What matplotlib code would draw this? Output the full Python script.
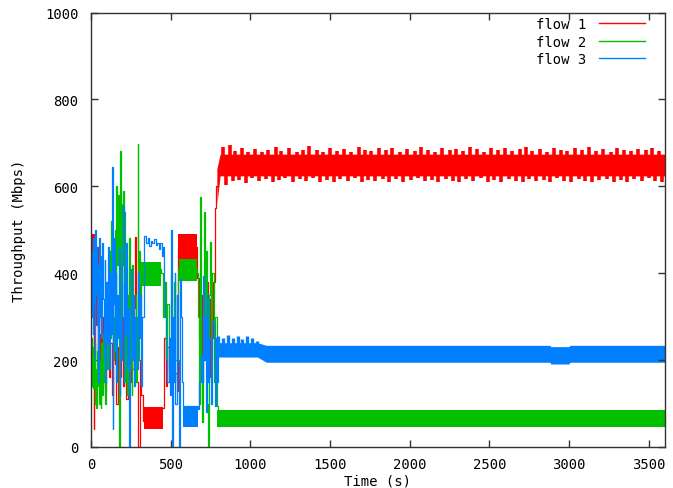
import numpy as np
import matplotlib
matplotlib.use("Agg")
import matplotlib.pyplot as plt

# ---------------- data ----------------
labels = ["flow 1", "flow 2", "flow 3"]
colors = ["#ff0000", "#00c000", "#0080ff"]

# transient phase (0 - ~800 s), line samples
red_t = [0, 3, 6, 9, 12, 15, 18, 21, 24, 27, 30, 34, 38, 42, 46, 50, 55, 60, 65, 70,
         75, 80, 85, 90, 95, 100, 110, 120, 130, 140, 150, 160, 170, 180, 190, 200, 210,
         220, 230, 240, 250, 260, 270, 278, 285, 295, 305, 315, 325, 330, 450, 460, 470,
         480, 490, 500, 510, 520, 530, 540, 548, 663, 665, 675, 685, 695, 705, 715, 725,
         735, 745, 755, 765, 775, 785, 795, 805]
red_v = [430, 490, 400, 480, 410, 470, 41, 300, 460, 400, 320, 280, 460, 200, 320, 260, 150,
         320, 270, 140, 300, 180, 250, 130, 220, 300, 160, 240, 120, 280, 190, 100, 230, 160,
         300, 140, 250, 110, 200, 150, 260, 180, 320, 484, 150, 0, 200, 120, 60, 90, 90, 250,
         140, 230, 180, 130, 190, 150, 170, 130, 460, 460, 390, 250, 350, 150, 300, 200, 380,
         160, 340, 250, 380, 550, 600, 640, 650]

green_t = [0, 3, 6, 9, 12, 15, 18, 21, 24, 27, 30, 34, 38, 42, 46, 50, 55, 60, 65, 70, 75,
           80, 85, 90, 95, 100, 105, 110, 115, 120, 125, 130, 135, 140, 145, 150, 155, 160,
           165, 170, 176, 180, 184, 188, 192, 196, 200, 205, 209, 215, 220, 225, 230, 235,
           240, 245, 250, 255, 260, 265, 272, 280, 287, 293, 297, 303, 310, 316, 440, 450,
           460, 470, 480, 490, 500, 510, 520, 530, 540, 548, 663, 670, 677, 684, 690, 697,
           704, 710, 716, 722, 727, 732, 738, 745, 752, 760, 770, 780, 789, 795]
green_v = [200, 140, 250, 160, 230, 135, 210, 150, 240, 100, 180, 90, 220, 140, 230, 100, 200,
           90, 240, 120, 260, 150, 210, 100, 300, 180, 350, 200, 450, 250, 520, 300, 380, 200,
           300, 500, 350, 600, 420, 580, 0, 520, 682, 300, 560, 450, 590, 200, 540, 150, 400,
           120, 350, 250, 480, 180, 300, 120, 420, 250, 350, 150, 300, 697, 200, 450, 300, 410,
           400, 300, 380, 200, 330, 150, 400, 250, 380, 200, 350, 410, 400, 300, 100, 576, 200,
           57, 300, 540, 200, 450, 100, 0, 350, 471, 200, 400, 150, 300, 95, 80]

blue_t = [0, 3, 6, 9, 12, 15, 18, 21, 24, 27, 30, 34, 38, 42, 46, 50, 55, 60, 65, 70, 75, 80,
          85, 90, 95, 100, 105, 110, 115, 120, 125, 132, 136, 140, 145, 150, 155, 160, 165,
          170, 175, 180, 185, 190, 195, 200, 205, 210, 215, 220, 225, 230, 238, 242, 248, 255,
          262, 270, 278, 285, 292, 300, 308, 315, 322, 330, 335, 345, 355, 365, 375, 385, 395,
          405, 415, 425, 435, 445, 450, 458, 465, 472, 480, 488, 495, 502, 506, 512, 518, 525,
          530, 537, 543, 552, 556, 562, 570, 577, 672, 680, 690, 697, 704, 710, 716, 722, 728,
          735, 742, 750, 758, 767, 775, 782, 790, 798, 805]
blue_v = [330, 450, 300, 400, 260, 480, 330, 420, 200, 500, 350, 460, 280, 420, 150, 480, 300,
          440, 250, 470, 340, 200, 430, 150, 380, 240, 460, 310, 180, 400, 260, 645, 41, 330,
          480, 220, 400, 150, 350, 250, 460, 120, 300, 200, 420, 555, 150, 380, 260, 470, 180,
          320, 0, 250, 410, 200, 350, 140, 300, 180, 400, 250, 350, 140, 300, 460, 486, 470,
          480, 462, 475, 470, 478, 465, 470, 455, 470, 440, 460, 380, 300, 200, 150, 250, 120,
          500, 0, 300, 150, 400, 100, 350, 200, 0, 387, 300, 150, 95, 88, 150, 211, 150, 394,
          200, 300, 80, 350, 150, 250, 100, 290, 286, 95, 250, 150, 230, 240]

# dense oscillation blocks in the transient phase: (start, end, low, high)
red_blocks = [(0, 25, 400, 490), (330, 450, 41, 92), (548, 663, 433, 490)]
green_blocks = [(316, 440, 370, 425), (548, 663, 383, 433)]
blue_blocks = [(577, 672, 46, 91)]

# steady phase: band envelopes
red_env_t = [790, 810, 3600]
red_env_lo = [560, 624, 624]
red_env_hi = [640, 674, 674]
red_spk_t = [830, 870, 905, 950, 985, 1030, 1075, 1110,
             1160, 1195, 1240, 1290, 1330, 1370, 1420, 1455,
             1500, 1545, 1590, 1630, 1680, 1720, 1760, 1810,
             1850, 1890, 1940, 1985, 2030, 2070, 2115, 2160,
             2200, 2250, 2290, 2335, 2380, 2420, 2465, 2510,
             2555, 2600, 2640, 2690, 2730, 2770, 2820, 2860,
             2905, 2950, 2990, 3040, 3080, 3125, 3170, 3210,
             3260, 3300, 3345, 3390, 3430, 3480, 3520, 3565]
red_spk_top = [690, 695, 682, 688, 680, 686, 678, 684,
               690, 681, 687, 679, 684, 692, 683, 680,
               688, 682, 686, 679, 690, 684, 681, 687,
               683, 689, 680, 686, 682, 690, 684, 679,
               688, 683, 686, 681, 690, 685, 680, 687,
               683, 689, 681, 685, 690, 682, 686, 680,
               688, 684, 681, 687, 683, 690, 682, 685,
               679, 688, 684, 681, 686, 683, 689, 682]
red_dip_t = [850, 890, 930, 975, 1010, 1055, 1095, 1140,
             1180, 1220, 1265, 1310, 1350, 1395, 1440, 1480,
             1525, 1565, 1610, 1655, 1700, 1740, 1785, 1830,
             1870, 1915, 1960, 2005, 2050, 2095, 2140, 2180,
             2225, 2270, 2310, 2355, 2400, 2445, 2490, 2530,
             2575, 2620, 2665, 2710, 2750, 2795, 2840, 2880,
             2925, 2970, 3015, 3060, 3100, 3145, 3190, 3235,
             3280, 3325, 3365, 3410, 3455, 3500, 3540, 3585]
red_dip_bot = [602, 612, 615, 608, 618, 612, 616, 610,
               614, 618, 610, 616, 612, 619, 611, 615,
               609, 617, 613, 618, 610, 615, 612, 617,
               611, 616, 609, 614, 618, 612, 615, 610,
               617, 613, 609, 616, 612, 618, 611, 614,
               610, 616, 613, 609, 617, 612, 615, 611,
               618, 613, 610, 616, 612, 609, 615, 617,
               611, 614, 610, 616, 613, 618, 612, 610]

blue_env_t = [780, 1045, 1100, 2880, 2885, 3000, 3005, 3600]
blue_env_lo = [207, 207, 195, 195, 191, 191, 195, 195]
blue_env_hi = [240, 240, 234, 234, 231, 231, 234, 234]
blue_spk_t = [800, 830, 860, 890, 920, 950, 980, 1010, 1040]
blue_spk_top = [255, 250, 258, 252, 256, 248, 255, 250, 245]

green_env_t = [790, 3600]
green_env_lo = [45, 45]
green_env_hi = [85, 85]

# ---------------- figure ----------------
W, H = 673, 489
fig = plt.figure(figsize=(W / 100, H / 100), dpi=100)
ax = fig.add_axes([91 / W, 1 - 448 / H, (664.7 - 91) / W, (448 - 13.5) / H])

font = "DejaVu Sans Mono"
fs = 10


def draw(t, v, blocks, et, elo, ehi, color, label):
    for (a, b, l, h) in blocks:
        ax.fill_between([a, b], [l, l], [h, h], color=color, lw=0)
    ax.plot(t, v, color=color, lw=0.9, drawstyle="steps-post", label=label)
    ax.fill_between(et, elo, ehi, color=color, lw=0)


draw(red_t, red_v, red_blocks, red_env_t, red_env_lo, red_env_hi, colors[0], labels[0])
ax.vlines(red_spk_t, 650, red_spk_top, color=colors[0], lw=2.6)
ax.vlines(red_dip_t, red_dip_bot, 650, color=colors[0], lw=2.6)
draw(green_t, green_v, green_blocks, green_env_t, green_env_lo, green_env_hi,
     colors[1], labels[1])
draw(blue_t, blue_v, blue_blocks, blue_env_t, blue_env_lo, blue_env_hi, colors[2], labels[2])
ax.vlines(blue_spk_t, 220, blue_spk_top, color=colors[2], lw=2.4)

ax.set_xlim(0, 3600)
ax.set_ylim(0, 1000)
ax.set_xticks(range(0, 3501, 500))
ax.set_yticks(range(0, 1001, 200))
ax.tick_params(direction="in", top=True, right=True, length=5, width=1, color="#333333",
               labelsize=fs)
ax.tick_params(axis="y", pad=9)
ax.tick_params(axis="x", pad=7)
for lab in ax.get_xticklabels() + ax.get_yticklabels():
    lab.set_fontfamily(font)
for s in ax.spines.values():
    s.set_color("#333333")
    s.set_linewidth(1.0)

ax.set_xlabel("Time (s)", fontfamily=font, fontsize=fs, labelpad=2)
ax.set_ylabel("Throughput (Mbps)", fontfamily=font, fontsize=fs, labelpad=14)

leg = ax.legend(loc="upper right", bbox_to_anchor=(0.975, 1.002), markerfirst=False,
                frameon=False, handlelength=3.3, handletextpad=0.9, labelspacing=0.25,
                borderaxespad=0.0, prop={"family": font, "size": fs})
for h in leg.legend_handles:
    h.set_linewidth(1.0)

fig.savefig("out.png", dpi=100)
